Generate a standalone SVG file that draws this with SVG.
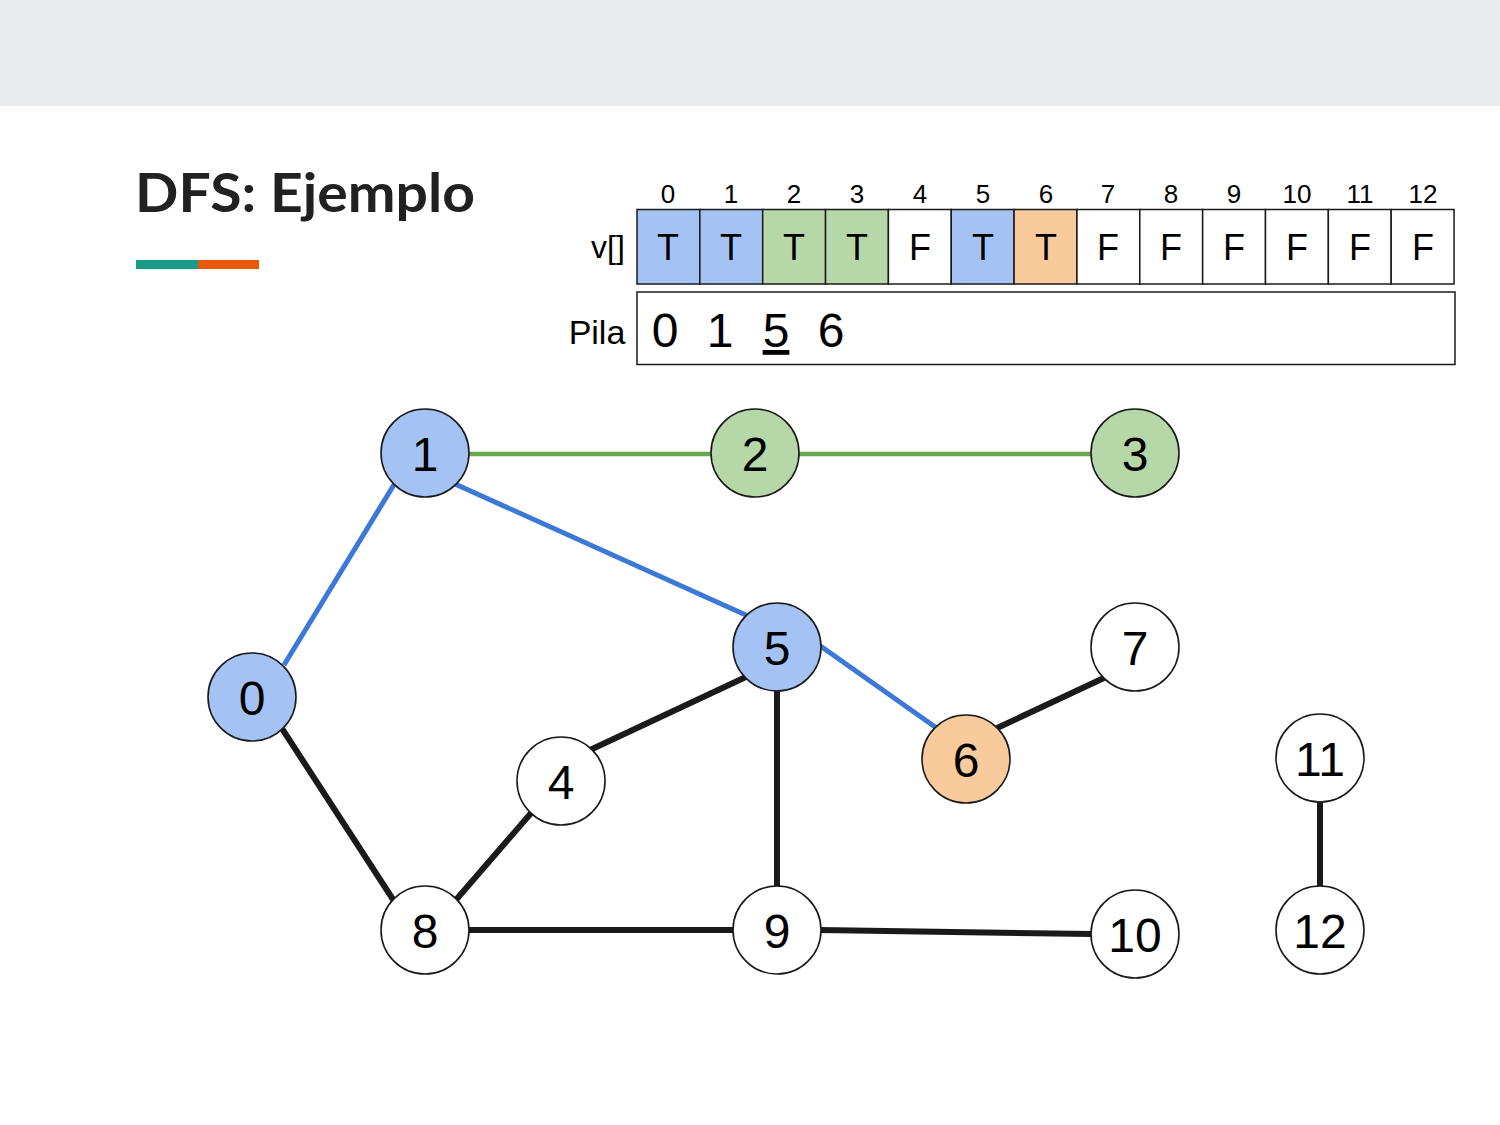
<svg xmlns="http://www.w3.org/2000/svg" width="1500" height="1125" viewBox="0 0 1500 1125">
<style>
.lbl{font-family:"Liberation Sans",Arial,sans-serif;fill:#000;text-anchor:middle}
.node circle{stroke:#1a1a1a;stroke-width:1.6}
.nl{font-family:"Liberation Sans",Arial,sans-serif;font-size:48px;text-anchor:middle;fill:#000}
.cell{stroke:#1a1a1a;stroke-width:1.5}
.e{fill:none;stroke-linecap:butt}
.blk{stroke:#1a1a1a;stroke-width:6}
.blu{stroke:#3c78d8;stroke-width:5}
.grn{stroke:#6aa84f;stroke-width:4.5}
</style>
<rect x="0" y="0" width="1500" height="1125" fill="#ffffff"/>
<rect x="0" y="0" width="1500" height="106" fill="#e8ecec"/>
<g id="title">
<text x="135" y="212" font-family="Lato,'Open Sans',sans-serif" font-weight="bold" font-size="54" fill="#212121" textLength="340" lengthAdjust="spacingAndGlyphs">DFS: Ejemplo</text>
<rect x="136" y="260" width="62" height="9" fill="#1a9b8a"/>
<rect x="198" y="260" width="61" height="9" fill="#e8590c"/>
</g>
<g id="array">
<g class="lbl" font-size="26">
<text x="668" y="203">0</text><text x="731" y="203">1</text><text x="794" y="203">2</text><text x="857" y="203">3</text><text x="920" y="203">4</text><text x="983" y="203">5</text><text x="1046" y="203">6</text><text x="1108" y="203">7</text><text x="1171" y="203">8</text><text x="1234" y="203">9</text><text x="1297" y="203">10</text><text x="1360" y="203">11</text><text x="1423" y="203">12</text>
</g>
<text x="608" y="258" class="lbl" font-size="32">v[]</text>
<rect class="cell" x="637" y="209.5" width="62.85" height="74.5" fill="#a4c2f4"/>
<rect class="cell" x="699.85" y="209.5" width="62.85" height="74.5" fill="#a4c2f4"/>
<rect class="cell" x="762.7" y="209.5" width="62.85" height="74.5" fill="#b6d7a8"/>
<rect class="cell" x="825.55" y="209.5" width="62.85" height="74.5" fill="#b6d7a8"/>
<rect class="cell" x="888.4" y="209.5" width="62.85" height="74.5" fill="#ffffff"/>
<rect class="cell" x="951.25" y="209.5" width="62.85" height="74.5" fill="#a4c2f4"/>
<rect class="cell" x="1014.1" y="209.5" width="62.85" height="74.5" fill="#f9cb9c"/>
<rect class="cell" x="1076.95" y="209.5" width="62.85" height="74.5" fill="#ffffff"/>
<rect class="cell" x="1139.8" y="209.5" width="62.85" height="74.5" fill="#ffffff"/>
<rect class="cell" x="1202.65" y="209.5" width="62.85" height="74.5" fill="#ffffff"/>
<rect class="cell" x="1265.5" y="209.5" width="62.85" height="74.5" fill="#ffffff"/>
<rect class="cell" x="1328.35" y="209.5" width="62.85" height="74.5" fill="#ffffff"/>
<rect class="cell" x="1391.2" y="209.5" width="62.85" height="74.5" fill="#ffffff"/>
<g class="lbl" font-size="36">
<text x="668" y="260">T</text><text x="731" y="260">T</text><text x="794" y="260">T</text><text x="857" y="260">T</text><text x="920" y="260">F</text><text x="983" y="260">T</text><text x="1046" y="260">T</text><text x="1108" y="260">F</text><text x="1171" y="260">F</text><text x="1234" y="260">F</text><text x="1297" y="260">F</text><text x="1360" y="260">F</text><text x="1423" y="260">F</text>
</g>
</g>
<g id="pila">
<text x="597" y="344" class="lbl" font-size="34">Pila</text>
<rect class="cell" x="637" y="292" width="818" height="72.5" fill="#ffffff"/>
<g class="lbl" font-size="48">
<text x="665" y="347">0</text><text x="720" y="347">1</text><text x="776" y="347" text-decoration="underline">5</text><text x="831" y="347">6</text>
</g>
</g>
<g id="edges">
<line class="e grn" x1="425" y1="454" x2="755" y2="454"/>
<line class="e grn" x1="755" y1="454" x2="1135" y2="454"/>
<line class="e blu" x1="284" y1="665" x2="395" y2="483"/>
<line class="e blu" x1="455" y1="484" x2="748" y2="616"/>
<line class="e blu" x1="819" y1="645" x2="938" y2="729"/>
<line class="e blk" x1="281" y1="727" x2="394" y2="901"/>
<line class="e blk" x1="455" y1="901" x2="532" y2="812"/>
<line class="e blk" x1="590" y1="750" x2="748" y2="676"/>
<line class="e blk" x1="777" y1="690" x2="777" y2="887" stroke-width="4.5"/>
<line class="e blk" x1="468" y1="930" x2="734" y2="930"/>
<line class="e blk" x1="820" y1="930" x2="1092" y2="934"/>
<line class="e blk" x1="995" y1="729" x2="1106" y2="677"/>
<line class="e blk" x1="1320" y1="800" x2="1320" y2="888"/>
</g>
<g id="node0" class="node"><circle cx="252" cy="697" r="44" fill="#a4c2f4"/><text class="nl" x="252" y="715">0</text></g>
<g id="node1" class="node"><circle cx="425" cy="453" r="44" fill="#a4c2f4"/><text class="nl" x="425" y="471">1</text></g>
<g id="node2" class="node"><circle cx="755" cy="453" r="44" fill="#b6d7a8"/><text class="nl" x="755" y="471">2</text></g>
<g id="node3" class="node"><circle cx="1135" cy="453" r="44" fill="#b6d7a8"/><text class="nl" x="1135" y="471">3</text></g>
<g id="node4" class="node"><circle cx="561" cy="781" r="44" fill="#ffffff"/><text class="nl" x="561" y="799">4</text></g>
<g id="node5" class="node"><circle cx="777" cy="647" r="44" fill="#a4c2f4"/><text class="nl" x="777" y="665">5</text></g>
<g id="node6" class="node"><circle cx="966" cy="759" r="44" fill="#f9cb9c"/><text class="nl" x="966" y="777">6</text></g>
<g id="node7" class="node"><circle cx="1135" cy="647" r="44" fill="#ffffff"/><text class="nl" x="1135" y="665">7</text></g>
<g id="node8" class="node"><circle cx="425" cy="930" r="44" fill="#ffffff"/><text class="nl" x="425" y="948">8</text></g>
<g id="node9" class="node"><circle cx="777" cy="930" r="44" fill="#ffffff"/><text class="nl" x="777" y="948">9</text></g>
<g id="node10" class="node"><circle cx="1135" cy="934" r="44" fill="#ffffff"/><text class="nl" x="1135" y="952">10</text></g>
<g id="node11" class="node"><circle cx="1320" cy="758" r="44" fill="#ffffff"/><text class="nl" x="1320" y="776">11</text></g>
<g id="node12" class="node"><circle cx="1320" cy="930" r="44" fill="#ffffff"/><text class="nl" x="1320" y="948">12</text></g>
</svg>
